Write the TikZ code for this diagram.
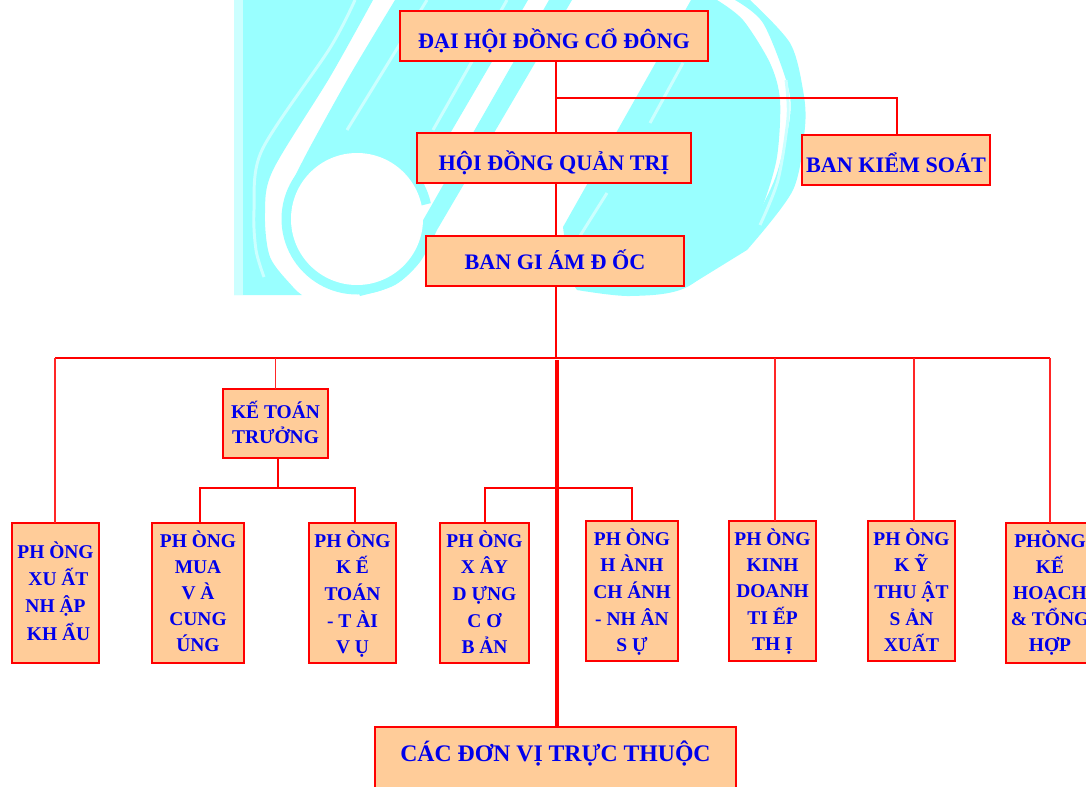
\documentclass[tikz,border=0pt]{standalone}
\usepackage{fontspec}
\setmainfont{Liberation Serif}
\definecolor{cy}{HTML}{99FFFF}
\definecolor{cyl}{HTML}{CCFFFF}
\definecolor{pe}{HTML}{FFCC99}
\tikzset{
  px/.style={x=0.75pt,y=-0.75pt},
  wire/.style={draw=red,line width=1.5pt},
  thinwire/.style={draw=red!85!white,line width=1.2pt},
  heavywire/.style={draw=red,line width=2.3pt},
  org/.style={draw=red,line width=1.6pt,fill=pe,text=blue!92!black,inner sep=0pt,outer sep=0pt,font=\bfseries,align=center},
  lightline/.style={draw=cyl,line width=2.2pt}
}
% name, x1, y1, x2, y2, first baseline, font px, line px, text
\newcommand\orgbox[9]{%
  \pgfmathsetmacro\bxw{(#4-#2)*0.75}%
  \pgfmathsetmacro\bxh{#6-#3}%
  \pgfmathsetmacro\bxd{#5-#6}%
  \node[org,minimum width=\bxw pt,text height=\bxh*0.75pt,text depth=\bxd*0.75pt] (#1) at ({(#2+#4)/2},{(#3+#5)/2})
  {\fontsize{#7}{#8}\selectfont\begin{tabular}[t]{@{}c@{}}#9\end{tabular}};}
\begin{document}
\begin{tikzpicture}[px]
\useasboundingbox (0,0) rectangle (1086,786);
\begin{scope}
\clip (234,0) rectangle (810,296);
% left logo part
\fill[cy] (234,0) -- plot[smooth] coordinates {(373,0)(330,77)(273,170)(265,213)(270,257)(293,287)(302,295)} -- (234,295) -- cycle;
\fill[cyl] (234,0) rectangle (243,295);
\fill[cy] plot[smooth] coordinates {(395,0)(350,75)(310,147)(288,190)} -- (300,200) -- (360,180) -- (413,197) -- (528,0) -- cycle;
\fill[cy] (549,0) -- (572,0) -- plot[smooth] coordinates {(437,230)(420,262)(395,285)(360,296)} -- (350,270) -- (400,250) -- (422,222) -- cycle;
\draw[cy,line width=7.5pt,domain=-312:-12,samples=80] plot ({357+70.5*cos(\x)},{219+70.5*sin(\x)});
\fill[white] (357,219) circle [radius=66];
\draw[lightline] plot[smooth] coordinates {(355,0)(330,48)(262,150)(254,210)(256,250)(264,277)};
\draw[lightline] (427,0) -- (347,130);
\draw[lightline] (507,0) -- (433,130);
% right logo part
\fill[cy] plot[smooth] coordinates {(735,0)(763,23)(787,83)(790,117)(777,173)(760,210)(747,227)} -- plot[smooth] coordinates {(747,250)(793,190)(805,127)(803,90)(790,43)(750,0)} -- cycle;
\fill[cy] (691,0) -- (563,227) -- (570,280) -- plot[smooth] coordinates {(577,290)(630,296)(687,287)(747,235)(763,205)(777,157)(780,100)(770,63)(743,20)(717,0)} -- cycle;
\fill[cy] (687,287) -- (747,250) -- (747,227) -- cycle;
\draw[lightline] (683,63) -- (650,123);
\draw[lightline] (607,193) -- (573,247);
\draw[lightline] plot[smooth] coordinates {(760,225)(778,180)(788,117)(786,80)};
\end{scope}
% boxes
\orgbox{dh}{400}{11}{708}{61}{48}{16.6}{20}{ĐẠI HỘI ĐỒNG CỔ ĐÔNG}
\orgbox{hd}{417}{133}{691}{183}{170}{16.6}{20}{HỘI ĐỒNG QUẢN TRỊ}
\orgbox{bk}{802}{135}{990}{185}{172}{16.6}{20}{BAN KIỂM SOÁT}
\orgbox{bg}{426}{236}{684}{286}{269}{16.6}{20}{BAN GI ÁM Đ ỐC}
\orgbox{kt}{223}{389}{328}{458}{418}{14.6}{18.8}{KẾ TOÁN\\TRƯỞNG}
\orgbox{pa}{12}{523}{99}{663}{558}{14.6}{20.6}{PH ÒNG\\\hspace*{4.5pt}XU ẤT\\NH ẬP\\\hspace*{4.5pt}KH ẨU}
\orgbox{pb}{152}{523}{244}{663}{547}{14.6}{19.6}{PH ÒNG\\MUA\\V À\\CUNG\\ÚNG}
\orgbox{pc}{309}{523}{396}{663}{547}{14.6}{20}{PH ÒNG\\K Ế\\TOÁN\\- T ÀI\\V Ụ}
\orgbox{pd}{440}{523}{529}{663}{547}{14.6}{20}{PH ÒNG\\X ÂY\\D ỰNG\\C Ơ\\B ẢN}
\orgbox{pe}{586}{521}{678}{661}{545}{14.6}{20}{PH ÒNG\\H ÀNH\\CH ÁNH\\- NH ÂN\\S Ự}
\orgbox{pf}{729}{521}{816}{661}{545}{14.6}{19.8}{PH ÒNG\\KINH\\DOANH\\TI ẾP\\TH Ị}
\orgbox{pg}{868}{521}{955}{661}{545}{14.6}{20}{PH ÒNG\\K Ỹ\\THU ẬT\\S ẢN\\XUẤT}
\orgbox{ph}{1006}{523}{1094}{663}{547}{14.6}{19.6}{PHÒNG\\KẾ\\HOẠCH\\\& TỔNG\\HỢP}
\orgbox{dv}{375}{727}{736}{800}{761}{17.8}{22}{CÁC ĐƠN VỊ TRỰC THUỘC}
% junction coordinates
\coordinate (ja) at (556,98);
\coordinate (jb) at (897,98);
\coordinate (jc) at (556,358);
\coordinate (bl) at (55,358);
\coordinate (br) at (1050,358);
\coordinate (bk1) at (275.5,358);
\coordinate (bf) at (775,358);
\coordinate (bg1) at (914,358);
\coordinate (jd) at (278,488);
\coordinate (jdl) at (200,488);
\coordinate (jdr) at (355,488);
\coordinate (jel) at (485,488);
\coordinate (jer) at (632,488);
\coordinate (jm) at (557,488);
\coordinate (jt) at (557,360);
% connectors
\begin{scope}[on background layer/.style={}]
\draw[wire] (ja |- dh.south) -- (ja |- hd.north);
\draw[wire] (ja) -- (jb) -- (jb |- bk.north);
\draw[wire] (ja |- hd.south) -- (ja |- bg.north);
\draw[wire] (jc |- bg.south) -- (jc);
\draw[wire] (bl) -- (br);
\draw[thinwire] (bl) -- (bl |- pa.north);
\draw[thinwire] (bk1) -- (bk1 |- kt.north);
\draw[thinwire] (br) -- (br |- ph.north);
\draw[thinwire] (bf) -- (bf |- pf.north);
\draw[thinwire] (bg1) -- (bg1 |- pg.north);
\draw[wire] (jd |- kt.south) -- (jd);
\draw[wire] (jdl |- pb.north) -- (jdl) -- (jdr) -- (jdr |- pc.north);
\draw[wire] (jel |- pd.north) -- (jel) -- (jer) -- (jer |- pe.north);
\draw[heavywire] (jt) -- (jt |- dv.north);
\end{scope}
\end{tikzpicture}
\end{document}
